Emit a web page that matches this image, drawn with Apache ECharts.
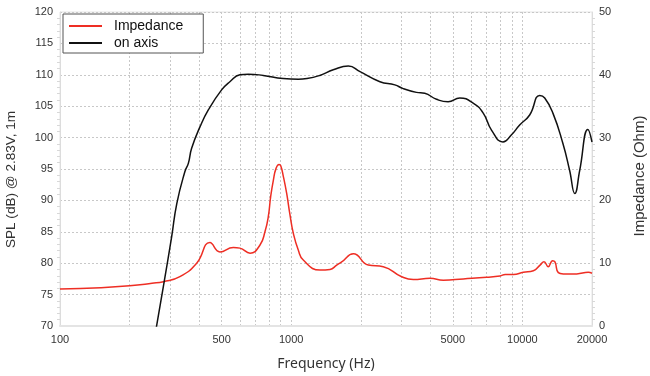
<!DOCTYPE html>
<html>
<head>
<meta charset="utf-8">
<script src="https://cdn.jsdelivr.net/npm/echarts@6/dist/echarts.min.js"></script>
<style>html,body{margin:0;padding:0;background:#fff}#c{width:650px;height:376px}</style>
</head>
<body>
<div id="c"></div>
<script>
// ---- data ----
const splFreq = [255, 280, 304, 320, 347, 359, 371, 403, 438, 500, 543, 600, 652, 757, 923, 1074, 1170, 1330, 1520, 1767, 1985, 2420, 2807, 3050, 3480, 3780, 4250, 4770, 5360, 6120, 6770, 7350, 8240, 8950, 9730, 10750, 11880, 12490, 13550, 14960, 16000, 16850, 17700, 19200, 20000];
const splDB = [67.6, 76.3, 84.2, 89.5, 94.6, 95.9, 98.3, 101.7, 104.4, 107.6, 108.9, 110.0, 110.1, 109.9, 109.4, 109.3, 109.4, 109.9, 110.8, 111.4, 110.5, 108.9, 108.4, 107.8, 107.2, 107.05, 106.1, 105.7, 106.3, 105.5, 103.9, 101.2, 99.3, 100.4, 102.0, 103.6, 106.7, 106.3, 103.9, 99.1, 94.8, 91.1, 94.8, 101.3, 99.3];
const impFreq = [100, 150, 200, 250, 280, 330, 390, 445, 492, 562, 600, 664, 733, 770, 796, 815, 837, 860, 886, 901, 925, 956, 988, 1021, 1073, 1128, 1332, 1472, 1573, 1653, 1857, 2155, 2501, 3005, 3373, 3983, 4550, 5550, 7010, 8000, 8430, 9140, 10090, 11150, 11920, 12400, 12930, 13510, 13830, 14300, 15030, 17170, 19270, 20000];
const impOhm = [5.9, 6.1, 6.4, 6.8, 7.06, 7.85, 10.0, 13.3, 11.8, 12.5, 12.4, 11.6, 12.9, 15.0, 17.4, 20.6, 23.2, 25.1, 25.7, 25.5, 23.8, 21.1, 17.7, 14.8, 12.1, 10.5, 8.9, 9.0, 9.7, 10.2, 11.5, 9.7, 9.45, 7.85, 7.4, 7.6, 7.3, 7.5, 7.75, 7.96, 8.2, 8.2, 8.55, 8.8, 9.7, 10.25, 9.45, 10.4, 10.2, 8.5, 8.3, 8.3, 8.55, 8.4];
const xLabelValues = [100, 500, 1000, 5000, 10000, 20000];
const xGridValues = [100, 200, 300, 400, 500, 600, 700, 800, 900, 1000, 2000, 3000, 4000, 5000, 6000, 7000, 8000, 9000, 10000, 20000];
const seriesNames = ['Impedance', 'on axis'];

const lg = v => Math.log10(v);
const chart = echarts.init(document.getElementById('c'), null, {renderer: 'canvas'});
const labelFont = {fontFamily: 'Liberation Sans', fontSize: 11, color: '#333'};
const splitStyle = {show: true, lineStyle: {color: '#c8c8c8', type: [2, 2], width: 1}};

chart.setOption({
  animation: false,
  grid: {left: 60, right: 58, top: 12, bottom: 50, show: true, borderColor: '#e4e4e4', borderWidth: 1, containLabel: false, outerBoundsMode: 'none'},
  legend: {
    orient: 'vertical', left: 63, top: 14,
    data: seriesNames,
    icon: 'rect', itemWidth: 33, itemHeight: 2, itemGap: 3,
    padding: [5, 6, 3, 6],
    backgroundColor: '#fff', borderColor: '#555', borderWidth: 1,
    textStyle: {fontFamily: 'Liberation Sans', fontSize: 14, color: '#111', lineHeight: 14, padding: [0, 14, 0, 7]}
  },
  xAxis: {
    type: 'value', min: lg(100), max: lg(20000),
    name: 'Frequency (Hz)', nameLocation: 'middle', nameGap: 31,
    nameTextStyle: {fontFamily: 'Noto Sans', fontSize: 14, color: '#333'},
    axisLine: {show: true, lineStyle: {color: '#e4e4e4', width: 2}},
    axisTick: {show: false, customValues: xGridValues.map(lg)},
    axisLabel: {customValues: xLabelValues.map(lg), formatter: v => String(Math.round(Math.pow(10, v))), margin: 8, ...labelFont},
    splitLine: splitStyle
  },
  yAxis: [
    {
      type: 'value', min: 70, max: 120, interval: 5, position: 'left',
      name: 'SPL (dB) @ 2.83V, 1m', nameLocation: 'middle', nameGap: 42,
      nameTextStyle: {fontFamily: 'Liberation Sans', fontSize: 13.6, color: '#333', padding: [0, 21, 0, 0]},
      axisLine: {show: true, lineStyle: {color: '#dcdcdc'}},
      axisTick: {show: false},
      minorTick: {show: true, splitNumber: 5, length: 3, lineStyle: {color: '#d8d8d8'}},
      axisLabel: {margin: 7, ...labelFont},
      splitLine: splitStyle
    },
    {
      type: 'value', min: 0, max: 50, interval: 10, position: 'right',
      name: 'Impedance (Ohm)', nameLocation: 'middle', nameGap: 40,
      nameTextStyle: {fontFamily: 'Liberation Sans', fontSize: 15, color: '#333', padding: [0, 14, 0, 0]},
      axisLine: {show: true, lineStyle: {color: '#dcdcdc'}},
      axisTick: {show: false},
      minorTick: {show: true, splitNumber: 10, length: 3, lineStyle: {color: '#d8d8d8'}},
      axisLabel: {margin: 7, ...labelFont},
      splitLine: {show: false}
    }
  ],
  series: [
    {
      name: seriesNames[0], type: 'line', yAxisIndex: 1, showSymbol: false, smooth: 0.5,
      itemStyle: {color: '#ee2e24'}, lineStyle: {color: '#ee2e24', width: 1.5},
      data: impFreq.map((f, i) => [lg(f), impOhm[i]])
    },
    {
      name: seriesNames[1], type: 'line', yAxisIndex: 0, showSymbol: false, smooth: 0.5,
      itemStyle: {color: '#111'}, lineStyle: {color: '#111', width: 1.5},
      data: splFreq.map((f, i) => [lg(f), splDB[i]])
    }
  ]
});
</script>
</body>
</html>
